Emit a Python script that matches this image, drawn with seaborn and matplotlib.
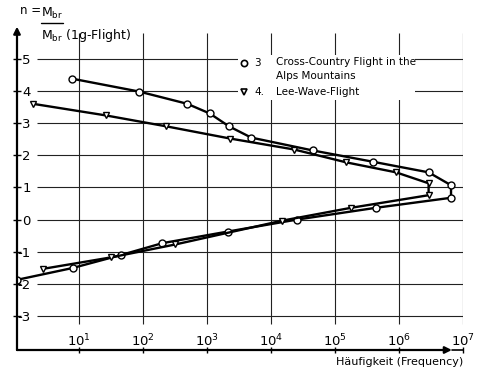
import numpy as np
import pandas as pd
import matplotlib
matplotlib.use("Agg")
import matplotlib.pyplot as plt
import seaborn as sns
from matplotlib.patches import Rectangle
from matplotlib.lines import Line2D

# --- data ---
freq_3 = [7.8, 87, 490, 1100, 2200, 4900, 45000, 3.9e5, 2.9e6, 6.5e6,
          6.5e6, 4.4e5, 2.5e4, 2100, 200, 45, 8, 1.07]
n_3 = [4.38, 3.98, 3.60, 3.30, 2.90, 2.55, 2.15, 1.80, 1.47, 1.07,
       0.68, 0.37, 0.00, -0.37, -0.73, -1.10, -1.50, -1.87]
freq_4 = [1.9, 26, 230, 2300, 23000, 1.5e5, 9e5, 2.9e6,
          2.9e6, 1.8e5, 1.5e4, 320, 32, 2.7]
n_4 = [3.60, 3.24, 2.90, 2.52, 2.18, 1.78, 1.47, 1.13,
       0.76, 0.37, -0.03, -0.77, -1.17, -1.53]
y_ticks = [-3, -2, -1, 0, 1, 2, 3, 4, 5]
x_ticks = [1e1, 1e2, 1e3, 1e4, 1e5, 1e6, 1e7]
x_tick_labels = [r"$10^{1}$", r"$10^{2}$", r"$10^{3}$", r"$10^{4}$",
                 r"$10^{5}$", r"$10^{6}$", r"$10^{7}$"]
legend_ids = ["3", "4."]
legend_texts = ["Cross-Country Flight in the\nAlps Mountains", "Lee-Wave-Flight"]
x_label = "Häufigkeit (Frequency)"

df = pd.concat([
    pd.DataFrame({"freq": freq_3, "n": n_3, "series": "3"}),
    pd.DataFrame({"freq": freq_4, "n": n_4, "series": "4"}),
], ignore_index=True)

sns.set_style("white")
plt.rcParams["font.family"] = ["DejaVu Sans"]
plt.rcParams["mathtext.fontset"] = "dejavusans"
plt.rcParams["axes.unicode_minus"] = False
plt.rcParams["text.color"] = "black"
plt.rcParams["xtick.color"] = "black"
plt.rcParams["ytick.color"] = "black"

W, H = 478, 371
fig = plt.figure(figsize=(W / 100, H / 100), dpi=100)
left_px, right_px, top_px, bot_px = 17, 463, 33, 350
ax = fig.add_axes([left_px / W, 1 - bot_px / H, (right_px - left_px) / W, (bot_px - top_px) / H])

ax.set_xscale("log")
ax.set_xlim(1.07, 1e7)
ax.set_ylim(-4.05, 5.8)

# grid
ax.hlines(y_ticks, 2.2, 1e7, color="#222222", lw=0.8, zorder=0)
ax.vlines(x_ticks, -3.25, 5.8, color="#222222", lw=0.8, zorder=0)

sns.lineplot(data=df, x="freq", y="n", style="series", markers={"3": "o", "4": "v"},
             dashes=False, sort=False, estimator=None, units="series",
             color="black", lw=1.7, markersize=5, markerfacecolor="white",
             markeredgecolor="black", markeredgewidth=1.0, legend=False, ax=ax, zorder=3)

for s in ax.spines.values():
    s.set_visible(False)

# axes arrows
ax.annotate("", xy=(0, 1.02), xytext=(0, 0), xycoords="axes fraction",
            arrowprops=dict(arrowstyle="-|>", color="black", lw=1.6, mutation_scale=10,
                            shrinkA=0, shrinkB=0), annotation_clip=False)
ax.annotate("", xy=(0.975, 0), xytext=(0, 0), xycoords="axes fraction",
            arrowprops=dict(arrowstyle="-|>", color="black", lw=1.6, mutation_scale=10,
                            shrinkA=0, shrinkB=0), annotation_clip=False)
ax.plot([0.975, 1.0], [0, 0], transform=ax.transAxes, color="black", lw=1.2, clip_on=False)

ax.set_yticks(y_ticks)
ax.set_yticklabels([str(v) for v in y_ticks])
ax.set_xticks(x_ticks)
ax.set_xticklabels(x_tick_labels)
ax.xaxis.set_minor_locator(matplotlib.ticker.NullLocator())
ax.tick_params(axis="y", direction="inout", length=6, width=1.0, pad=-13, labelsize=9.5,
               left=True, colors="black")
ax.tick_params(axis="x", direction="inout", length=5, width=1.0, pad=-15, labelsize=9.5,
               bottom=True, colors="black")
ax.set_xlabel("")
ax.set_ylabel("")

fig.text(336 / W, 1 - 362 / H, x_label, fontsize=8, va="center", ha="left", color="black")

# y-axis label  n = M_br / M_br (1g-Flight)
fig.text(20 / W, 1 - 10 / H, "n =", fontsize=8.5, va="center", ha="left", color="black")
fig.text(41 / W, 1 - 13 / H, r"M$_{\mathrm{br}}$", fontsize=9, va="center", ha="left", color="black")
fig.lines.append(Line2D([41 / W, 63 / W], [1 - 23 / H, 1 - 23 / H], transform=fig.transFigure,
                        color="black", lw=1.0))
fig.text(41 / W, 1 - 36 / H, r"M$_{\mathrm{br}}$ (1g-Flight)", fontsize=9, va="center", ha="left",
         color="black")

# legend (manual, white background)
fig.patches.append(Rectangle((238 / W, 1 - 100 / H), (415 - 238) / W, 45 / H,
                             transform=fig.transFigure, facecolor="white", edgecolor="none",
                             zorder=2))
fig.lines.append(Line2D([244 / W], [1 - 63 / H], transform=fig.transFigure,
                        marker="o", markersize=4.5, markerfacecolor="white",
                        markeredgecolor="black", markeredgewidth=1.2, zorder=5))
fig.lines.append(Line2D([244 / W], [1 - 92 / H], transform=fig.transFigure,
                        marker="v", markersize=4.5, markerfacecolor="white",
                        markeredgecolor="black", markeredgewidth=1.2, zorder=5))
fig.text(254 / W, 1 - 63 / H, legend_ids[0], fontsize=7.5, va="center", ha="left", zorder=5)
fig.text(254 / W, 1 - 92 / H, legend_ids[1], fontsize=7.5, va="center", ha="left", zorder=5)
fig.text(276 / W, 1 - 57 / H, legend_texts[0], fontsize=7.5, va="top", ha="left",
         linespacing=1.5, zorder=5)
fig.text(276 / W, 1 - 92 / H, legend_texts[1], fontsize=7.5, va="center", ha="left", zorder=5)

fig.savefig("out.png", dpi=100, facecolor="white")
